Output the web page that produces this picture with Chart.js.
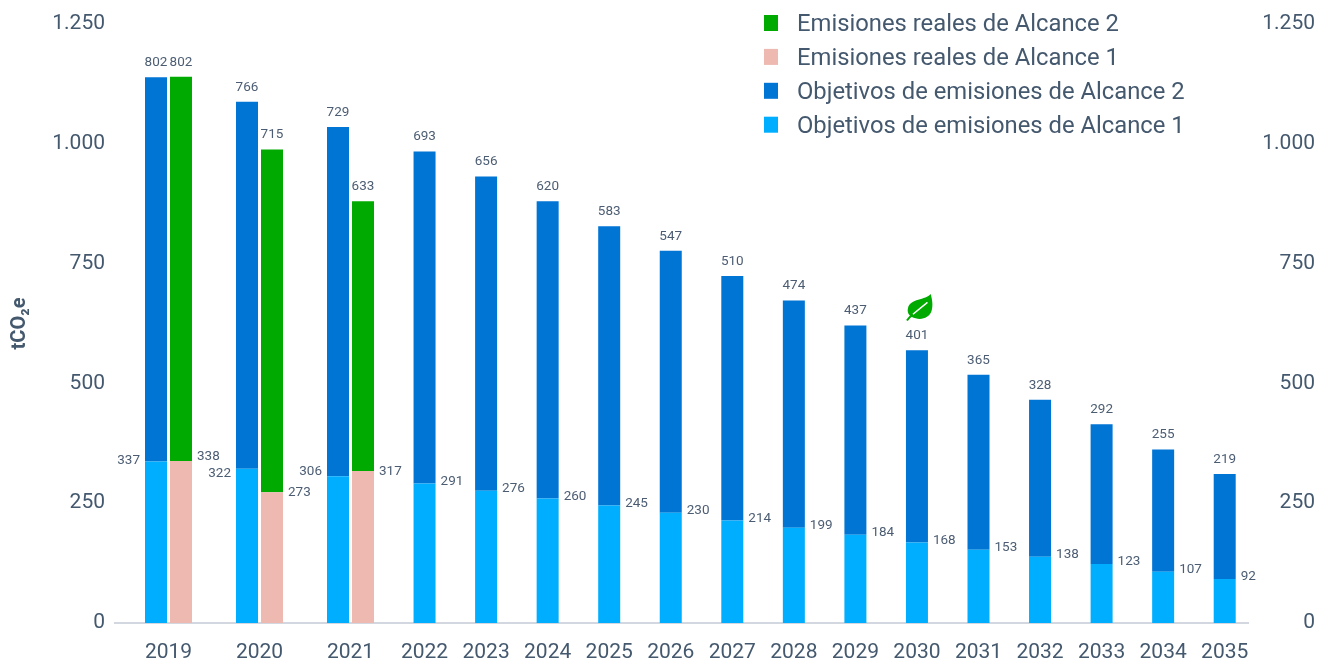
<!DOCTYPE html>
<html lang="es">
<head>
<meta charset="utf-8">
<title>Emisiones</title>
<style>
  html, body { margin: 0; padding: 0; background: #fff; }
  canvas { display: block; }
</style>
</head>
<body>
<canvas id="chart-js" width="1325" height="660"></canvas>
<script src="https://cdn.jsdelivr.net/npm/chart.js@4"></script>
<script>
const years = [2019, 2020, 2021, 2022, 2023, 2024, 2025, 2026, 2027, 2028, 2029, 2030, 2031, 2032, 2033, 2034, 2035];
const targetScope1 = [337, 322, 306, 291, 276, 260, 245, 230, 214, 199, 184, 168, 153, 138, 123, 107, 92];
const targetScope2 = [802, 766, 729, 693, 656, 620, 583, 547, 510, 474, 437, 401, 365, 328, 292, 255, 219];
const realScope1 = [338, 273, 317];
// the 2021 bar in the picture is shorter than its printed 633
const realScope2 = [802, 715, 563];
const realScope2Labels = [802, 715, 633];
const yTickLabels = ["0", "250", "500", "750", "1.000", "1.250"];

const textColor = "#44586e";
const labelColor = "#4c5d73";
const colors = { target1: "#00aeff", target2: "#0075d4", real1: "#edb9b0", real2: "#00aa00" };
const legendItems = [
  { text: "Emisiones reales de Alcance 2", color: colors.real2 },
  { text: "Emisiones reales de Alcance 1", color: colors.real1 },
  { text: "Objetivos de emisiones de Alcance 2", color: colors.target2 },
  { text: "Objetivos de emisiones de Alcance 1", color: colors.target1 },
];

// years with real emissions get two bars, so the x axis is not evenly spaced
const pairGap = 25, afterPair = 66, singleStep = 61.55;
const targetX = [], realX = [], tickX = [];
let cursor = 0;
years.forEach((year, i) => {
  targetX.push(cursor);
  if (i < realScope1.length) {
    realX.push(cursor + pairGap);
    tickX.push(cursor + pairGap / 2);
    cursor += pairGap + (i + 1 < realScope1.length ? afterPair : singleStep);
  } else {
    tickX.push(cursor);
    cursor += singleStep;
  }
});

const points = (xs, values) => values.map((v, i) => ({ x: xs[i], y: v }));

// small shifts for the labels beside the bars that would otherwise touch
const sideNudge = { target: { 0: 1, 1: 7, 2: -3 }, real: { 0: -2.5, 1: 2.5, 2: 2.5 } };

const valueLabels = {
  id: "valueLabels",
  afterDatasetsDraw(chart) {
    const ctx = chart.ctx;
    ctx.save();
    ctx.font = "13.5px Roboto";
    ctx.fillStyle = labelColor;
    ctx.textBaseline = "middle";
    chart.data.datasets.forEach((ds, d) => {
      chart.getDatasetMeta(d).data.forEach((bar, i) => {
        const value = ds.labelText ? ds.labelText[i] : ds.data[i].y;
        if (ds.labelAt === "top") {
          ctx.textAlign = "center";
          ctx.fillText(value, bar.x, bar.y - 14.5);
        } else if (ds.stack === "target" && i < realScope1.length) {
          ctx.textAlign = "right";
          ctx.fillText(value, bar.x - 16, bar.y - 2 + (sideNudge.target[i] || 0));
        } else {
          ctx.textAlign = "left";
          ctx.fillText(value, bar.x + 16, bar.y - 2 + (ds.stack === "real" ? sideNudge.real[i] : 0));
        }
      });
    });
    ctx.restore();
  },
};

const sideLegend = {
  id: "sideLegend",
  afterDraw(chart) {
    const ctx = chart.ctx;
    ctx.save();
    ctx.font = "23.8px Roboto";
    ctx.textAlign = "left";
    ctx.textBaseline = "middle";
    legendItems.forEach((item, i) => {
      const y = 23 + i * 33.9;
      ctx.fillStyle = item.color;
      ctx.fillRect(764, y - 8, 14, 16);
      ctx.fillStyle = textColor;
      ctx.fillText(item.text, 797, y + 2);
    });
    ctx.restore();
  },
};

const leafIcon = {
  id: "leafIcon",
  afterDatasetsDraw(chart) {
    const bar = chart.getDatasetMeta(1).data[years.indexOf(2030)];
    const ctx = chart.ctx;
    ctx.save();
    ctx.translate(bar.x, bar.y);
    ctx.fillStyle = colors.real2;
    ctx.beginPath();
    ctx.moveTo(13.7, -56.3);
    ctx.bezierCurveTo(9, -50, -7, -52, -9, -42);
    ctx.bezierCurveTo(-10, -38, -8, -35, -5.5, -33.5);
    ctx.bezierCurveTo(3, -29, 12, -32, 14.5, -39);
    ctx.bezierCurveTo(16.5, -45, 15, -52, 13.7, -56.3);
    ctx.fill();
    ctx.strokeStyle = colors.real2;
    ctx.lineWidth = 2;
    ctx.beginPath();
    ctx.moveTo(-10, -29.8);
    ctx.quadraticCurveTo(-7.5, -33.5, -4, -36);
    ctx.stroke();
    ctx.strokeStyle = "#fff";
    ctx.lineWidth = 1.4;
    ctx.beginPath();
    ctx.moveTo(-4, -36);
    ctx.quadraticCurveTo(3, -42, 10.5, -48);
    ctx.stroke();
    ctx.restore();
  },
};

new Chart(document.getElementById("chart-js"), {
  type: "bar",
  data: {
    datasets: [
      { label: "Objetivos de emisiones de Alcance 1", stack: "target", data: points(targetX, targetScope1), backgroundColor: colors.target1 },
      { label: "Objetivos de emisiones de Alcance 2", stack: "target", labelAt: "top", data: points(targetX, targetScope2), backgroundColor: colors.target2 },
      { label: "Emisiones reales de Alcance 1", stack: "real", data: points(realX, realScope1), backgroundColor: colors.real1 },
      { label: "Emisiones reales de Alcance 2", stack: "real", labelAt: "top", labelText: realScope2Labels, data: points(realX, realScope2), backgroundColor: colors.real2 },
    ],
  },
  plugins: [valueLabels, sideLegend, leafIcon],
  options: {
    responsive: false,
    animation: false,
    grouped: false,
    barPercentage: 1,
    categoryPercentage: 1,
    maxBarThickness: 22,
    inflateAmount: 0,
    layout: { padding: { top: 24, right: 10 } },
    plugins: { legend: { display: false }, tooltip: { enabled: false } },
    scales: {
      x: {
        type: "linear",
        offset: false,
        min: -41,
        max: 1092,
        grid: { display: false },
        border: { color: "#d3d8e0", width: 2 },
        afterBuildTicks(scale) {
          scale.ticks = tickX.map((v) => ({ value: v }));
        },
        afterFit(scale) {
          scale.height = 37;
        },
        ticks: {
          autoSkip: false,
          maxRotation: 0,
          padding: 9,
          color: textColor,
          font: { family: "Roboto", size: 21 },
          callback: (value, index) => years[index],
        },
      },
      y: {
        stacked: true,
        min: 0,
        max: 1250,
        grid: { display: false },
        border: { display: false },
        afterFit(scale) {
          scale.width = 115;
          scale.paddingTop = 0;
        },
        title: {
          display: true,
          text: "tCO₂e",
          color: textColor,
          font: { family: "Roboto", size: 20, weight: "bold" },
          padding: { top: 8, bottom: 0 },
        },
        ticks: {
          stepSize: 250,
          padding: 2,
          color: textColor,
          font: { family: "Roboto", size: 21 },
          callback: (value, index) => yTickLabels[index],
        },
      },
      y2: {
        position: "right",
        min: 0,
        max: 1250,
        grid: { display: false },
        border: { display: false },
        afterFit(scale) {
          scale.width = 67;
          scale.paddingTop = 0;
        },
        ticks: {
          stepSize: 250,
          crossAlign: "far",
          padding: 0,
          color: textColor,
          font: { family: "Roboto", size: 21 },
          callback: (value, index) => yTickLabels[index],
        },
      },
    },
  },
});
</script>
</body>
</html>
